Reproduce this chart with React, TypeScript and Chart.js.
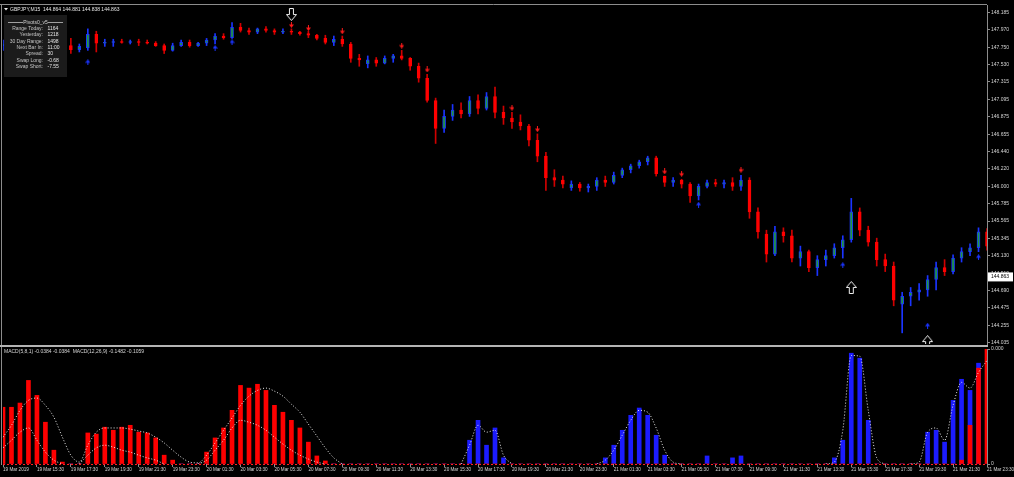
import React, { useEffect, useRef } from 'react';
import { Chart, registerables } from 'chart.js';
Chart.register(...registerables);

const symbolHeader = 'GBPJPY,M15  144.864 144.881 144.838 144.863';
const currentPrice = 144.863;
const priceTicks = [148.185, 147.970, 147.750, 147.530, 147.315, 147.095, 146.875, 146.655, 146.440, 146.220,
  146.000, 145.785, 145.565, 145.345, 145.130, 144.910, 144.690, 144.475, 144.255, 144.035];

const timeLabels = ['19 Mar 2019', '19 Mar 15:30', '19 Mar 17:30', '19 Mar 19:30', '19 Mar 21:30', '19 Mar 23:30',
  '20 Mar 01:30', '20 Mar 03:30', '20 Mar 05:30', '20 Mar 07:30', '20 Mar 09:30', '20 Mar 11:30',
  '20 Mar 13:30', '20 Mar 15:30', '20 Mar 17:30', '20 Mar 19:30', '20 Mar 21:30', '20 Mar 23:30',
  '21 Mar 01:30', '21 Mar 03:30', '21 Mar 05:30', '21 Mar 07:30', '21 Mar 09:30', '21 Mar 11:30',
  '21 Mar 13:30', '21 Mar 15:30', '21 Mar 17:30', '21 Mar 19:30', '21 Mar 21:30', '21 Mar 23:30'];

const opens = [
  147.77, 147.79, 147.76, 147.80, 147.77, 147.75, 147.79, 147.76, 147.77, 147.72,
  147.74, 147.91, 147.80, 147.81, 147.82, 147.81, 147.82, 147.81, 147.80, 147.77,
  147.71, 147.77, 147.81, 147.77, 147.80, 147.84, 147.89, 147.87, 148.00, 147.96,
  147.94, 147.98, 147.96, 147.94, 147.95, 147.94, 147.92, 147.90, 147.86, 147.81,
  147.85, 147.79, 147.61, 147.54, 147.59, 147.55, 147.61, 147.64, 147.61, 147.51,
  147.36, 147.08, 146.73, 146.88, 146.96, 146.91, 147.08, 146.98, 147.13, 146.93,
  146.86, 146.81, 146.76, 146.58, 146.38, 146.11, 146.08, 145.98, 146.03, 145.98,
  146.00, 146.08, 146.05, 146.14, 146.21, 146.26, 146.31, 146.36, 146.13, 146.05,
  146.08, 146.03, 145.88, 146.00, 146.05, 146.03, 146.05, 146.00, 146.08, 145.68,
  145.40, 145.15, 145.43, 145.38, 145.10, 145.18, 144.98, 145.08, 145.13, 145.23,
  145.33, 145.68, 145.45, 145.30, 145.08, 145.00, 144.52, 144.62, 144.67, 144.70,
  144.83, 144.98, 144.93, 145.10, 145.18, 145.23, 145.43];
const highs = [
  147.84, 147.86, 147.82, 147.85, 147.84, 147.81, 147.84, 147.82, 147.86, 147.79,
  147.98, 147.95, 147.85, 147.85, 147.85, 147.84, 147.85, 147.84, 147.82, 147.79,
  147.80, 147.84, 147.84, 147.81, 147.86, 147.92, 147.92, 148.06, 148.05, 147.99,
  147.99, 148.01, 147.98, 147.98, 147.98, 147.95, 147.95, 147.91, 147.90, 147.89,
  147.89, 147.81, 147.66, 147.64, 147.62, 147.64, 147.66, 147.71, 147.62, 147.55,
  147.41, 147.11, 146.96, 147.03, 147.05, 147.13, 147.15, 147.18, 147.25, 147.01,
  146.93, 146.90, 146.78, 146.66, 146.43, 146.21, 146.13, 146.07, 146.05, 146.03,
  146.11, 146.13, 146.18, 146.23, 146.28, 146.33, 146.38, 146.38, 146.13, 146.11,
  146.09, 146.05, 146.03, 146.08, 146.09, 146.08, 146.11, 146.14, 146.11, 145.73,
  145.45, 145.50, 145.48, 145.45, 145.25, 145.20, 145.13, 145.20, 145.28, 145.38,
  145.85, 145.73, 145.50, 145.35, 145.15, 145.05, 144.67, 144.73, 144.78, 144.88,
  145.05, 145.08, 145.14, 145.23, 145.28, 145.48, 145.47];
const lows = [
  147.71, 147.74, 147.71, 147.75, 147.71, 147.70, 147.72, 147.69, 147.67, 147.69,
  147.71, 147.69, 147.76, 147.76, 147.80, 147.79, 147.77, 147.79, 147.76, 147.67,
  147.70, 147.76, 147.75, 147.76, 147.77, 147.79, 147.85, 147.86, 147.94, 147.91,
  147.92, 147.94, 147.91, 147.92, 147.91, 147.90, 147.87, 147.84, 147.79, 147.77,
  147.76, 147.56, 147.51, 147.49, 147.51, 147.54, 147.56, 147.59, 147.46, 147.31,
  147.06, 146.54, 146.68, 146.83, 146.86, 146.88, 146.91, 146.96, 146.86, 146.78,
  146.73, 146.71, 146.51, 146.31, 145.95, 146.00, 145.98, 145.95, 145.94, 145.93,
  145.95, 146.00, 146.03, 146.11, 146.17, 146.23, 146.27, 146.13, 146.00, 146.00,
  145.98, 145.80, 145.83, 145.98, 146.00, 145.98, 145.95, 145.95, 145.60, 145.35,
  145.05, 145.13, 145.30, 145.05, 145.00, 144.93, 144.88, 145.00, 145.10, 145.10,
  145.30, 145.38, 145.25, 145.00, 144.93, 144.50, 144.16, 144.50, 144.57, 144.62,
  144.70, 144.88, 144.90, 145.05, 145.13, 145.18, 145.20];
const closes = [
  147.79, 147.76, 147.80, 147.77, 147.75, 147.79, 147.76, 147.74, 147.72, 147.76,
  147.91, 147.80, 147.81, 147.82, 147.81, 147.82, 147.81, 147.80, 147.77, 147.71,
  147.77, 147.81, 147.77, 147.80, 147.84, 147.89, 147.87, 148.00, 147.96, 147.94,
  147.98, 147.96, 147.94, 147.95, 147.94, 147.92, 147.90, 147.86, 147.81, 147.85,
  147.79, 147.61, 147.59, 147.59, 147.55, 147.61, 147.64, 147.61, 147.51, 147.36,
  147.08, 146.73, 146.88, 146.96, 146.91, 147.08, 146.98, 147.13, 146.93, 146.86,
  146.81, 146.76, 146.58, 146.38, 146.11, 146.08, 146.03, 146.03, 145.98, 146.00,
  146.08, 146.05, 146.14, 146.21, 146.26, 146.31, 146.36, 146.16, 146.05, 146.08,
  146.03, 145.88, 146.00, 146.05, 146.03, 146.05, 146.00, 146.08, 145.68, 145.43,
  145.15, 145.43, 145.38, 145.10, 145.18, 144.98, 145.08, 145.13, 145.23, 145.33,
  145.68, 145.45, 145.30, 145.08, 145.00, 144.57, 144.62, 144.67, 144.70, 144.83,
  144.98, 144.93, 145.10, 145.18, 145.23, 145.43, 145.25];

const fractalHighIdx = [34, 36, 40, 47, 50, 60, 63, 78, 80, 87];
const fractalHighPrice = [148.03, 147.99, 147.95, 147.77, 147.47, 146.99, 146.72, 146.19, 146.16, 146.21];
const fractalLowIdx = [10, 25, 27, 82, 99, 109, 115];
const fractalLowPrice = [147.56, 147.74, 147.81, 145.77, 145.01, 144.25, 145.11];
const signalIdx = [34, 100, 109];
const signalPrice = [148.16, 144.73, 144.05];
const signalDir = ['down', 'up', 'up'];

const macdRed = [
  0.148, 0.148, 0.159, 0.218, 0.179, 0.109, 0.036, 0.005, 0, 0,
  0.081, 0.078, 0.096, 0.088, 0.096, 0.101, 0.083, 0.081, 0.068, 0.023,
  0.010, 0, 0, 0, 0.031, 0.068, 0.094, 0.140, 0.205, 0.198,
  0.208, 0.192, 0.153, 0.135, 0.114, 0.094, 0.057, 0.021, 0.008, 0,
  0, 0, 0, 0, 0, 0, 0, 0, 0, 0,
  0, 0, 0, 0, 0, 0, 0, 0, 0, 0,
  0, 0, 0, 0, 0, 0, 0, 0, 0, 0,
  0, 0, 0, 0, 0, 0, 0, 0, 0, 0,
  0, 0, 0, 0, 0, 0, 0, 0, 0, 0,
  0, 0, 0, 0, 0, 0, 0, 0, 0, 0,
  0, 0, 0, 0, 0, 0, 0, 0, 0, 0,
  0, 0, 0, 0.010, 0.101, 0.250, 0.299];
const macdBlue = [
  0, 0, 0, 0, 0, 0, 0, 0, 0, 0,
  0, 0, 0, 0, 0, 0, 0, 0, 0, 0,
  0, 0, 0, 0, 0, 0, 0, 0, 0, 0,
  0, 0, 0, 0, 0, 0, 0, 0, 0, 0,
  0, 0, 0, 0, 0, 0, 0, 0, 0, 0,
  0, 0, 0, 0, 0, 0.062, 0.114, 0.049, 0.094, 0.016,
  0, 0, 0, 0, 0, 0, 0, 0, 0, 0,
  0, 0.016, 0.049, 0.088, 0.127, 0.146, 0.127, 0.075, 0.023, 0,
  0, 0, 0, 0.021, 0, 0, 0.016, 0.021, 0, 0,
  0, 0, 0, 0, 0, 0, 0, 0, 0.016, 0.062,
  0.289, 0.276, 0.114, 0, 0, 0, 0, 0, 0, 0.083,
  0.088, 0.057, 0.166, 0.221, 0.192, 0.263, 0];
const macdSlow = [
  0.070, 0.101, 0.140, 0.166, 0.172, 0.153, 0.122, 0.070, 0.023, 0.005,
  0.049, 0.083, 0.094, 0.094, 0.094, 0.091, 0.086, 0.081, 0.070, 0.055,
  0.036, 0.018, 0.005, 0.003, 0.023, 0.055, 0.088, 0.120, 0.153, 0.177,
  0.192, 0.198, 0.190, 0.177, 0.156, 0.135, 0.104, 0.073, 0.042, 0.016,
  0, null, null, null, null, null, null, null, null, null,
  null, null, null, null, 0, 0.049, 0.101, 0.083, 0.088, 0.023,
  0, null, null, null, null, null, null, null, null, null,
  0, 0.010, 0.036, 0.075, 0.114, 0.140, 0.135, 0.094, 0.036, 0.005,
  0, null, null, null, null, null, null, null, null, null,
  null, null, null, null, null, null, null, 0, 0.005, 0.088,
  0.283, 0.281, 0.140, 0.016, 0, null, null, 0, 0.005, 0.083,
  0.094, 0.062, 0.153, 0.213, 0.198, 0.239, 0.270];
const macdFast = [
  0.042, 0.062, 0.083, 0.094, 0.062, 0.031, 0.010, 0, null, 0,
  0.023, 0.042, 0.049, 0.044, 0.036, 0.031, 0.023, 0.016, 0.010, 0,
  null, null, null, 0, 0.010, 0.036, 0.062, 0.094, 0.114, 0.109,
  0.101, 0.088, 0.070, 0.052, 0.036, 0.023, 0.013, 0.005, 0, null,
  null, null, null, null, null, null, null, null, null, null,
  null, null, null, null, null, null, null, null, null, null,
  null, null, null, null, null, null, null, null, null, null,
  null, null, null, null, null, null, null, null, null, null,
  null, null, null, null, null, null, null, null, null, null,
  null, null, null, null, null, null, null, null, null, null,
  null, null, null, null, null, null, null, null, null, null,
  null, null, null, null, null, null, null];
const macdTickValues = [0, 0.3];
const macdTickLabels = ['0', '0.000'];
const macdTitle = 'MACD(5,8,1) -0.0384 -0.0384  MACD(12,26,9) -0.1482 -0.1059';

const infoTitle = 'Pivots0_v5';
const infoLabels = ['Range Today:', 'Yesterday:', '30 Day Range:', 'Next Bar In:', 'Spread:', 'Swap Long:', 'Swap Short:'];
const infoValues = ['1164', '1218', '1498', '11:00', '30', '-0.68', '-7.55'];

const FONT = '"Liberation Sans", Arial, sans-serif';
const AXIS = '#8c8c8c';
const TEXT = '#d4d4d4';

function arrowImg(color: string, up: boolean) {
  const c = document.createElement('canvas');
  c.width = 5; c.height = 6;
  const g = c.getContext('2d')!;
  g.fillStyle = color;
  g.beginPath();
  if (up) {
    g.fillRect(2, 3, 1, 3);
    g.moveTo(0, 3.5); g.lineTo(5, 3.5); g.lineTo(2.5, 0);
  } else {
    g.fillRect(2, 0, 1, 3);
    g.moveTo(0, 2.5); g.lineTo(5, 2.5); g.lineTo(2.5, 6);
  }
  g.closePath();
  g.fill();
  return c;
}

function hollowImg(up: boolean) {
  const c = document.createElement('canvas');
  c.width = 11; c.height = 13;
  const g = c.getContext('2d')!;
  const pts = [[3.5, 0.5], [7.5, 0.5], [7.5, 6.5], [10.5, 6.5], [5.5, 12.5], [0.5, 6.5], [3.5, 6.5]];
  g.beginPath();
  pts.forEach(([x, y], k) => {
    const yy = up ? 13 - y : y;
    if (k === 0) g.moveTo(x, yy); else g.lineTo(x, yy);
  });
  g.closePath();
  g.fillStyle = '#000';
  g.fill();
  g.strokeStyle = '#f0f0f0';
  g.lineWidth = 1;
  g.stroke();
  return c;
}

export default function App() {
  const r1 = useRef<HTMLCanvasElement>(null);
  const r2 = useRef<HTMLCanvasElement>(null);

  useEffect(() => {
    const labels = opens.map((_, i) => (i % 4 === 0 ? timeLabels[i / 4] : ''));
    const isBull = opens.map((o, i) => closes[i] >= o);
    const bodies = opens.map((o, i) => [o, closes[i]]);
    const wicks = lows.map((l, i) => [l, highs[i]]);
    const bodyFill = isBull.map(b => (b ? '#1f9a3c' : '#ff0000'));
    const bodyBorder = isBull.map(b => (b ? '#1a34ff' : '#ff0000'));
    const wickColor = isBull.map(b => (b ? '#1a34ff' : '#d00000'));
    const pick = (idx: number[], vals: number[]) =>
      labels.map((_, i) => { const k = idx.indexOf(i); return k >= 0 ? vals[k] : null; });
    const fracHigh = pick(fractalHighIdx, fractalHighPrice);
    const fracLow = pick(fractalLowIdx, fractalLowPrice);
    const sigDown = pick(signalIdx.filter((_, k) => signalDir[k] === 'down'), signalPrice.filter((_, k) => signalDir[k] === 'down'));
    const sigUp = pick(signalIdx.filter((_, k) => signalDir[k] === 'up'), signalPrice.filter((_, k) => signalDir[k] === 'up'));

    const overlay1 = {
      id: 'overlay1',
      afterDraw(chart: any) {
        const ctx = chart.ctx;
        const a = chart.chartArea;
        const y = chart.scales.y;
        ctx.save();
        ctx.strokeStyle = AXIS;
        ctx.lineWidth = 1;
        ctx.beginPath();
        ctx.moveTo(0, 4.5); ctx.lineTo(a.right, 4.5);
        ctx.moveTo(1.5, 4.5); ctx.lineTo(1.5, chart.height);
        ctx.stroke();
        ctx.fillStyle = '#e8e8e8';
        ctx.beginPath(); ctx.moveTo(4, 8); ctx.lineTo(8, 8); ctx.lineTo(6, 10.5); ctx.closePath(); ctx.fill();
        ctx.font = `5px ${FONT}`;
        ctx.textBaseline = 'middle';
        ctx.textAlign = 'left';
        ctx.fillText(symbolHeader, 10, 9.5);
        ctx.fillStyle = '#1b1b1b';
        ctx.fillRect(4, 15, 63, 62);
        ctx.strokeStyle = '#a0a0a0';
        ctx.beginPath();
        ctx.moveTo(8, 22.5); ctx.lineTo(23, 22.5);
        ctx.moveTo(48, 22.5); ctx.lineTo(63, 22.5);
        ctx.stroke();
        ctx.fillStyle = TEXT;
        ctx.textAlign = 'center';
        ctx.fillText(infoTitle, 35.5, 22.5);
        infoLabels.forEach((lab, k) => {
          const ty = 28.7 + k * 6.3;
          ctx.textAlign = 'right';
          ctx.fillStyle = '#c4c4c4';
          ctx.fillText(lab, 43, ty);
          ctx.textAlign = 'left';
          ctx.fillStyle = '#e4e4e4';
          ctx.fillText(infoValues[k], 47.5, ty);
        });
        const py = y.getPixelForValue(currentPrice);
        ctx.fillStyle = '#ffffff';
        ctx.fillRect(a.right + 1, py - 4.5, 25, 9);
        ctx.fillStyle = '#000000';
        ctx.textAlign = 'left';
        ctx.fillText(currentPrice.toFixed(3), a.right + 4, py);
        ctx.restore();
      },
    };

    const c1 = new Chart(r1.current!, {
      type: 'bar',
      data: {
        labels,
        datasets: [
          { type: 'line', data: sigDown, showLine: false, pointStyle: hollowImg(false), pointRadius: 6, order: -3 } as any,
          { type: 'line', data: sigUp, showLine: false, pointStyle: hollowImg(true), pointRadius: 6, order: -3 } as any,
          { type: 'line', data: fracHigh, showLine: false, pointStyle: arrowImg('#ff1a1a', false), pointRadius: 3, order: -2 } as any,
          { type: 'line', data: fracLow, showLine: false, pointStyle: arrowImg('#1a34ff', true), pointRadius: 3, order: -2 } as any,
          { data: bodies, backgroundColor: bodyFill, borderColor: bodyBorder, borderWidth: 1, borderSkipped: false, barThickness: 3, grouped: false, order: 0 } as any,
          { data: wicks, backgroundColor: wickColor, borderWidth: 0, barThickness: 1, grouped: false, order: 1 } as any,
        ],
      },
      options: {
        responsive: false,
        animation: false,
        events: [],
        layout: { autoPadding: false, padding: { left: 3, top: 5, right: 0, bottom: 1 } },
        plugins: { legend: { display: false }, tooltip: { enabled: false } },
        scales: {
          x: { type: 'category', offset: false, display: false, grid: { offset: false } },
          y: {
            position: 'right',
            min: 144.02,
            max: 148.28,
            afterBuildTicks: (s: any) => { s.ticks = priceTicks.map(v => ({ value: v })); },
            afterFit: (s: any) => { s.width = 27; s.paddingTop = 0; s.paddingBottom = 0; },
            ticks: { autoSkip: false, color: TEXT, font: { family: FONT, size: 5 }, padding: 1, callback: (v: any) => Number(v).toFixed(3) },
            grid: { drawOnChartArea: false, drawTicks: true, tickLength: 3, color: AXIS },
            border: { display: true, color: AXIS },
          },
        },
      } as any,
      plugins: [overlay1],
    });

    const overlay2 = {
      id: 'overlay2',
      afterDatasetsDraw(chart: any) {
        const ctx = chart.ctx;
        const a = chart.chartArea;
        const y0 = chart.scales.y.getPixelForValue(0);
        ctx.save();
        ctx.strokeStyle = '#ff2020';
        ctx.lineWidth = 1;
        ctx.setLineDash([2, 2]);
        ctx.beginPath();
        ctx.moveTo(a.left, Math.round(y0) + 0.5);
        ctx.lineTo(a.right, Math.round(y0) + 0.5);
        ctx.stroke();
        ctx.restore();
      },
      afterDraw(chart: any) {
        const ctx = chart.ctx;
        const a = chart.chartArea;
        ctx.save();
        ctx.fillStyle = '#b4b4b4';
        ctx.fillRect(0, 0, a.right + 1, 2);
        ctx.strokeStyle = AXIS;
        ctx.lineWidth = 1;
        ctx.beginPath();
        ctx.moveTo(1.5, 2); ctx.lineTo(1.5, a.bottom + 1);
        ctx.stroke();
        ctx.font = `5px ${FONT}`;
        ctx.fillStyle = TEXT;
        ctx.textBaseline = 'middle';
        ctx.textAlign = 'left';
        ctx.fillText(macdTitle, 4, 6.5);
        ctx.restore();
      },
    };

    const c2 = new Chart(r2.current!, {
      type: 'bar',
      data: {
        labels,
        datasets: [
          { type: 'line', data: macdSlow, borderColor: '#ececec', borderWidth: 1, borderDash: [1, 2], pointRadius: 0, cubicInterpolationMode: 'monotone', spanGaps: false, order: -2 } as any,
          { type: 'line', data: macdFast, borderColor: '#ececec', borderWidth: 1, borderDash: [1, 2], pointRadius: 0, cubicInterpolationMode: 'monotone', spanGaps: false, order: -1 } as any,
          { data: macdRed, backgroundColor: '#ff0000', barThickness: 4, grouped: false, order: 0 } as any,
          { data: macdBlue, backgroundColor: '#1c1cff', barThickness: 4, grouped: false, order: 1 } as any,
        ],
      },
      options: {
        responsive: false,
        animation: false,
        events: [],
        layout: { autoPadding: false, padding: { left: 3, top: 4, right: 0, bottom: 0 } },
        plugins: { legend: { display: false }, tooltip: { enabled: false } },
        scales: {
          x: {
            type: 'category',
            offset: false,
            afterFit: (s: any) => { s.height = 13; s.paddingLeft = 0; s.paddingRight = 0; },
            ticks: { autoSkip: false, maxRotation: 0, minRotation: 0, align: 'start', padding: 0, color: TEXT, font: { family: FONT, size: 4.6 } },
            grid: {
              offset: false,
              drawOnChartArea: false,
              drawTicks: true,
              tickLength: 3,
              color: (c: any) => (c.index % 4 === 0 ? AXIS : 'rgba(0,0,0,0)'),
            },
            border: { display: false },
          },
          y: {
            position: 'right',
            min: 0,
            max: 0.3,
            afterBuildTicks: (s: any) => { s.ticks = macdTickValues.map(v => ({ value: v })); },
            afterFit: (s: any) => { s.width = 27; s.paddingTop = 0; s.paddingBottom = 0; },
            ticks: { autoSkip: false, color: TEXT, font: { family: FONT, size: 5 }, padding: 1, callback: (_v: any, i: number) => macdTickLabels[i] },
            grid: { drawOnChartArea: false, drawTicks: true, tickLength: 3, color: AXIS },
            border: { display: true, color: AXIS },
          },
        },
      } as any,
      plugins: [overlay2],
    });

    return () => { c1.destroy(); c2.destroy(); };
  }, []);

  return (
    <div style={{ position: 'fixed', left: 0, top: 0, width: 1014, height: 477, background: '#000', overflow: 'hidden' }}>
      <canvas ref={r1} width={1014} height={345} style={{ display: 'block' }} />
      <canvas ref={r2} width={1014} height={132} style={{ display: 'block' }} />
    </div>
  );
}
